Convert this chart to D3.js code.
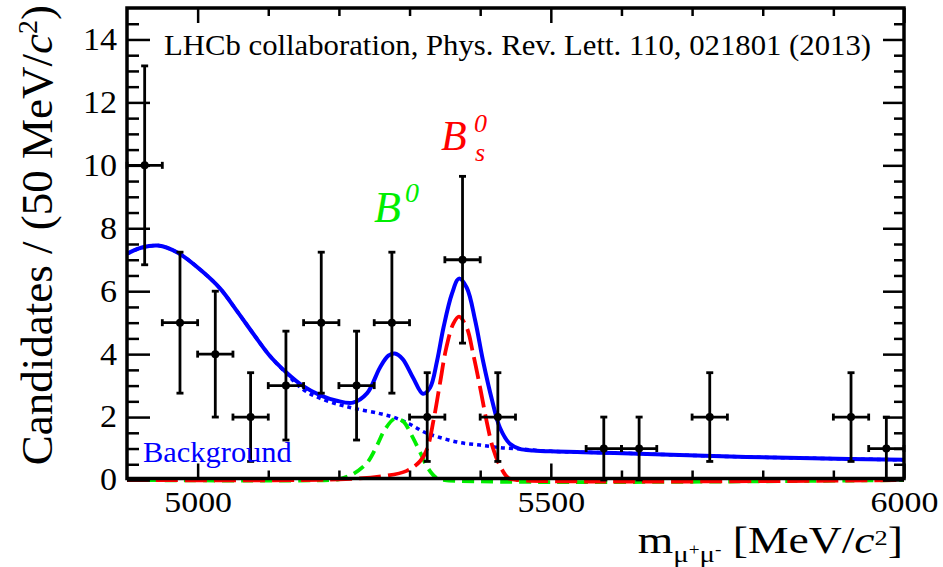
<!DOCTYPE html>
<html>
<head>
<meta charset="utf-8">
<script src="https://cdn.jsdelivr.net/npm/d3@7"></script>
<style>
  html, body { margin: 0; padding: 0; background: #fff; }
  svg { display: block; font-family: "Liberation Serif", "Times New Roman", serif; }
</style>
</head>
<body>
<svg id="chart" width="943" height="567"></svg>
<script>
// Dimuon invariant-mass histogram, 50 MeV/c^2 bins
const binCenters = [4925, 4975, 5025, 5075, 5125, 5175, 5225, 5275, 5325, 5375, 5425,
                    5475, 5525, 5575, 5625, 5675, 5725, 5775, 5825, 5875, 5925, 5975];
const counts = [10, 5, 4, 2, 3, 5, 3, 5, 2, 7, 2, 0, 0, 1, 1, 0, 2, 0, 0, 0, 2, 1];
const countErrors = [3.16, 2.24, 2.00, 1.41, 1.73, 2.24, 1.73, 2.24, 1.41, 2.65, 1.41,
                     0, 0, 1.00, 1.00, 0, 1.41, 0, 0, 0, 1.41, 1.00];
const binHalfWidth = 25;

// Fit: total model
const fitMass  = [4900, 4920, 4944, 4972, 5008, 5032, 5056, 5079, 5102, 5126, 5149, 5173,
                  5197, 5220, 5240, 5258, 5270, 5279, 5290, 5305, 5319, 5329, 5339, 5348,
                  5360, 5370, 5381, 5393, 5404, 5417, 5428, 5442, 5456, 5475, 5500, 5590,
                  5730, 5870, 6000];
const fitTotal = [7.19, 7.38, 7.45, 7.22, 6.60, 6.08, 5.36, 4.64, 3.95, 3.41, 2.99, 2.70,
                  2.52, 2.46, 2.76, 3.57, 3.95, 4.02, 3.85, 3.25, 2.74, 2.93, 3.79, 4.84,
                  5.92, 6.40, 6.11, 5.06, 3.79, 2.52, 1.66, 1.15, 0.99, 0.94, 0.91, 0.86,
                  0.76, 0.69, 0.64];

// Fit: background component
const bkgMass   = [4900, 4920, 4944, 4972, 5008, 5032, 5056, 5079, 5102, 5126, 5149, 5173,
                   5201, 5225, 5258, 5279, 5300, 5322, 5343, 5371, 5400, 5428, 5456, 5475,
                   5500, 5590, 5730, 5870, 6000];
const bkgValues = [7.19, 7.38, 7.45, 7.22, 6.60, 6.08, 5.36, 4.64, 3.95, 3.38, 2.88, 2.60,
                   2.39, 2.26, 2.11, 1.98, 1.78, 1.51, 1.35, 1.19, 1.11, 1.03, 0.99, 0.95,
                   0.91, 0.86, 0.76, 0.69, 0.64];

// Fit: B0 signal component
const b0Mass   = [4900, 5190, 5201, 5220, 5240, 5254, 5265, 5279, 5291, 5303, 5315, 5326,
                  5338, 5350, 6000];
const b0Values = [0, 0, 0.03, 0.19, 0.55, 1.10, 1.60, 1.95, 1.86, 1.42, 0.88, 0.38,
                  0.07, 0, 0];

// Fit: Bs signal component
const bsMass   = [4900, 5200, 5262, 5296, 5315, 5325, 5334, 5343, 5352, 5362, 5370, 5381,
                  5390, 5400, 5409, 5418, 5428, 5440, 5452, 6000];
const bsValues = [0, 0.02, 0.12, 0.29, 0.60, 1.00, 1.90, 3.06, 4.20, 4.97, 5.19, 4.84,
                  4.01, 2.93, 1.88, 1.02, 0.45, 0.06, 0, 0];

// Axis ticks
const xMajorTicks = [5000, 5500, 6000];
const xMinorTicks = [5100, 5200, 5300, 5400, 5600, 5700, 5800, 5900];
const yMajorTicks = [0, 2, 4, 6, 8, 10, 12, 14];
const yMinorTicks = [0.5, 1, 1.5, 2.5, 3, 3.5, 4.5, 5, 5.5, 6.5, 7, 7.5, 8.5, 9, 9.5,
                     10.5, 11, 11.5, 12.5, 13, 13.5, 14.5];

const svg = d3.select("#chart");
const L = 127, R = 904, T = 8, B = 480;

const x = d3.scaleLinear().domain([4900, 6000]).range([L, R]);
const y = d3.scaleLinear().domain([0, 15]).range([B, T]);

const plot = svg.append("g");

// ---- fit curves ----
function curve(xs, ys) {
  return d3.line().x((d, i) => x(xs[i])).y((d, i) => y(ys[i]))
    .curve(d3.curveCatmullRom.alpha(0.5))(xs);
}
plot.append("path").attr("d", curve(bkgMass, bkgValues))
  .attr("fill", "none").attr("stroke", "#0000ff").attr("stroke-width", 3.5)
  .attr("stroke-dasharray", "4,4");
plot.append("path").attr("d", curve(b0Mass, b0Values))
  .attr("fill", "none").attr("stroke", "#00ee00").attr("stroke-width", 3.8)
  .attr("stroke-dasharray", "12,7");
plot.append("path").attr("d", curve(bsMass, bsValues))
  .attr("fill", "none").attr("stroke", "#ff0000").attr("stroke-width", 3.8)
  .attr("stroke-dasharray", "22,7");
plot.append("path").attr("d", curve(fitMass, fitTotal))
  .attr("fill", "none").attr("stroke", "#0000ff").attr("stroke-width", 4);

// ---- frame and axes ----
svg.append("rect").attr("x", L).attr("y", T).attr("width", R - L).attr("height", B - 1.5 - T)
  .attr("fill", "none").attr("stroke", "#000").attr("stroke-width", 3.5);

function styleAxis(g, size, stretch) {
  g.select(".domain").remove();
  g.selectAll("line").attr("stroke", "#000").attr("stroke-width", 2.5);
  g.attr("font-family", null).attr("font-size", size);
  g.selectAll("text").attr("fill", "#000").attr("transform", `scale(${stretch || 1},1)`);
}
const yb = B - 1.5;
svg.append("g").attr("transform", `translate(0,${yb})`)
  .call(d3.axisBottom(x).tickValues(xMajorTicks).tickSize(-15).tickSizeOuter(0)
        .tickPadding(12).tickFormat(d3.format("d")))
  .call(g => styleAxis(g, 30, 1.13));
svg.append("g").attr("transform", `translate(0,${yb})`)
  .call(d3.axisBottom(x).tickValues(xMinorTicks).tickSize(-8).tickSizeOuter(0).tickFormat(""))
  .call(g => styleAxis(g, 0));
svg.append("g").attr("transform", `translate(0,${T})`)
  .call(d3.axisTop(x).tickValues(xMajorTicks).tickSize(-15).tickSizeOuter(0).tickFormat(""))
  .call(g => styleAxis(g, 0));
svg.append("g").attr("transform", `translate(0,${T})`)
  .call(d3.axisTop(x).tickValues(xMinorTicks).tickSize(-8).tickSizeOuter(0).tickFormat(""))
  .call(g => styleAxis(g, 0));

svg.append("g").attr("transform", `translate(${L},0)`)
  .call(d3.axisLeft(y).tickValues(yMajorTicks).tickSize(-23).tickSizeOuter(0).tickPadding(9))
  .call(g => styleAxis(g, 31, 1.1));
svg.append("g").attr("transform", `translate(${L},0)`)
  .call(d3.axisLeft(y).tickValues(yMinorTicks).tickSize(-12).tickSizeOuter(0).tickFormat(""))
  .call(g => styleAxis(g, 0));
svg.append("g").attr("transform", `translate(${R},0)`)
  .call(d3.axisRight(y).tickValues(yMajorTicks).tickSize(-21).tickSizeOuter(0).tickFormat(""))
  .call(g => styleAxis(g, 0));
svg.append("g").attr("transform", `translate(${R},0)`)
  .call(d3.axisRight(y).tickValues(yMinorTicks).tickSize(-10).tickSizeOuter(0).tickFormat(""))
  .call(g => styleAxis(g, 0));

// ---- data points with error bars ----
const data = binCenters.map((c, i) => ({ c, n: counts[i], e: countErrors[i] })).filter(d => d.n > 0);
const pts = svg.append("g").attr("stroke", "#000").attr("stroke-width", 2.8);
const cap = 3.5;
data.forEach(d => {
  const cx = x(d.c), cy = y(d.n);
  const y0 = y(d.n - d.e), y1 = y(d.n + d.e);
  const x0 = x(d.c - binHalfWidth), x1 = x(d.c + binHalfWidth);
  pts.append("line").attr("x1", cx).attr("x2", cx).attr("y1", y0).attr("y2", y1);
  pts.append("line").attr("x1", x0).attr("x2", x1).attr("y1", cy).attr("y2", cy);
  pts.append("line").attr("x1", cx - cap).attr("x2", cx + cap).attr("y1", y0).attr("y2", y0);
  pts.append("line").attr("x1", cx - cap).attr("x2", cx + cap).attr("y1", y1).attr("y2", y1);
  pts.append("line").attr("x1", x0).attr("x2", x0).attr("y1", cy - cap).attr("y2", cy + cap);
  pts.append("line").attr("x1", x1).attr("x2", x1).attr("y1", cy - cap).attr("y2", cy + cap);
  pts.append("circle").attr("cx", cx).attr("cy", cy).attr("r", 4).attr("fill", "#000").attr("stroke", "none");
});

// ---- labels ----
svg.append("g").attr("transform", "translate(164,55) scale(1.06,1)")
  .append("text").attr("font-size", 29).attr("fill", "#000")
  .text("LHCb collaboration, Phys. Rev. Lett. 110, 021801 (2013)");

svg.append("g").attr("transform", "translate(143,462) scale(1.05,1)")
  .append("text").attr("font-size", 29).attr("fill", "#0000ff")
  .text("Background");

const b0 = svg.append("text").attr("x", 374).attr("y", 222).attr("fill", "#00ee00")
  .attr("font-style", "italic").attr("font-size", 44);
b0.append("tspan").text("B");
b0.append("tspan").attr("x", 405).attr("dy", -20).attr("font-size", 28).text("0");

const bsLabel = svg.append("g").attr("fill", "#ff0000").attr("font-style", "italic");
bsLabel.append("text").attr("x", 441).attr("y", 150).attr("font-size", 42).text("B");
bsLabel.append("text").attr("x", 474).attr("y", 132).attr("font-size", 26).text("0");
bsLabel.append("text").attr("x", 475).attr("y", 161).attr("font-size", 26).text("s");

// x-axis title
const xt = svg.append("g").attr("transform", "translate(903,553) scale(1.2,1)")
  .append("text").attr("text-anchor", "end").attr("font-size", 38).attr("fill", "#000");
xt.append("tspan").text("m");
xt.append("tspan").attr("font-size", 24).attr("dy", 9).text("μ");
xt.append("tspan").attr("font-size", 16).attr("dy", -7).text("+");
xt.append("tspan").attr("font-size", 24).attr("dy", 7).text("μ");
xt.append("tspan").attr("font-size", 16).attr("dy", -7).text("-");
xt.append("tspan").attr("dy", -2).text(" [MeV/");
xt.append("tspan").attr("font-style", "italic").text("c");
xt.append("tspan").attr("font-size", 22).attr("dy", -8).text("2");
xt.append("tspan").attr("dy", 8).text("]");

// y-axis title
const yt = svg.append("text").attr("transform", "translate(52,5) rotate(-90)")
  .attr("text-anchor", "end").attr("font-size", 45).attr("fill", "#000");
yt.append("tspan").text("Candidates / (50 MeV/");
yt.append("tspan").attr("font-style", "italic").text("c");
yt.append("tspan").attr("font-size", 28).attr("dy", -15).text("2");
yt.append("tspan").attr("dy", 15).text(")");
</script>
</body>
</html>
